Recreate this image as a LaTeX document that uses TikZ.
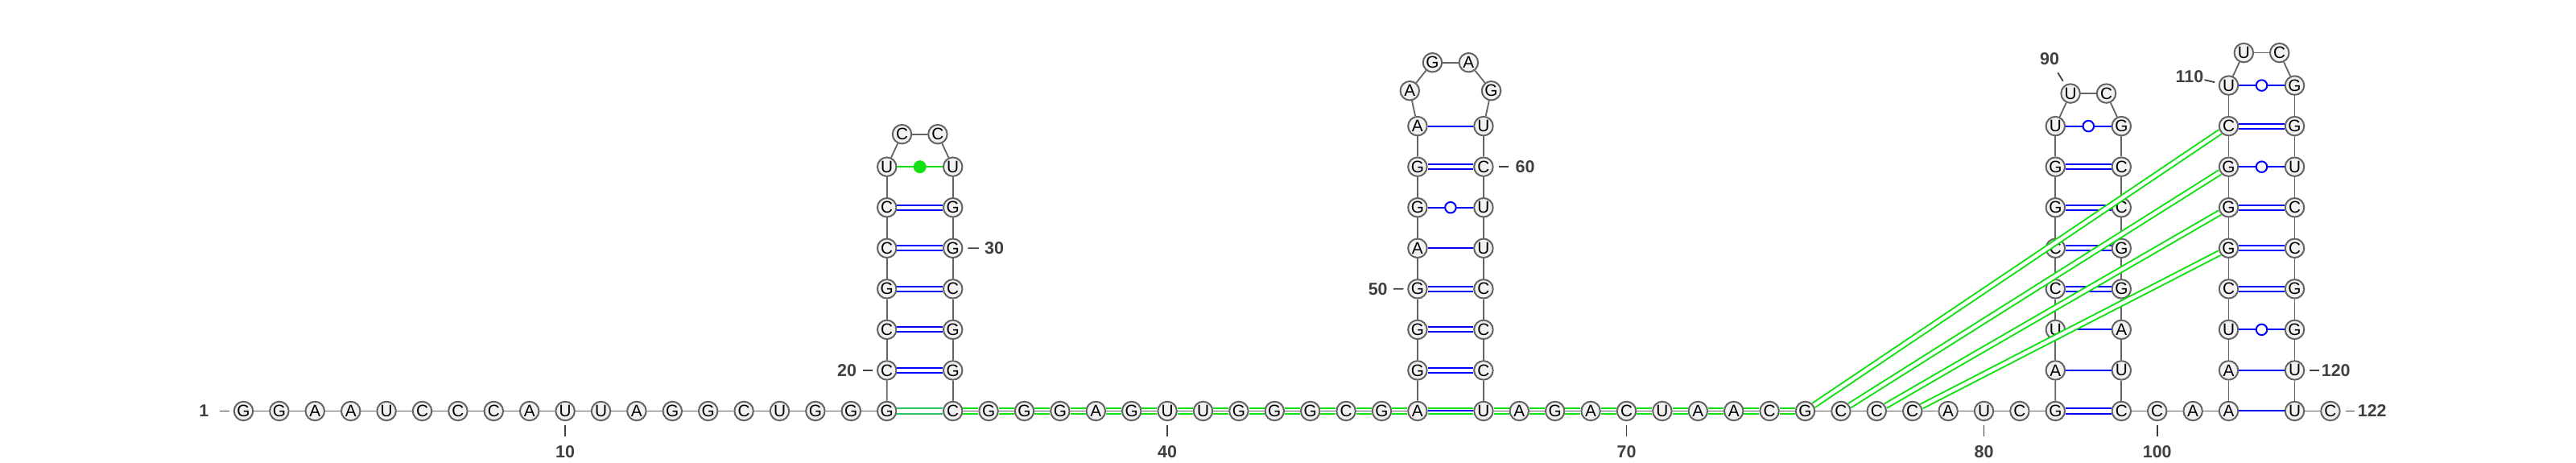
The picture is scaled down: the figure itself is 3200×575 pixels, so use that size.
\documentclass[tikz,border=0pt]{standalone}
\usepackage{fontspec}
\setmainfont{Liberation Sans}
\usepackage{tikz}
\usetikzlibrary{calc}
\definecolor{bbgray}{RGB}{100,100,100}
\definecolor{ntfill}{RGB}{242,242,242}
\definecolor{pairblue}{RGB}{0,0,255}
\definecolor{pkgreen}{RGB}{20,225,20}
\definecolor{pkteal}{RGB}{40,200,100}
\definecolor{lblgray}{RGB}{64,64,64}

\begin{document}
\begin{tikzpicture}[x=0.1mm, y=0.1mm,
    nt/.style={circle, draw=bbgray, fill=ntfill, line width=0.2mm, minimum size=2.35mm, inner sep=0pt, font=\fontsize{5.9}{6}\selectfont},
    bb/.style={draw=bbgray, line width=0.18mm},
    gc/.style={draw=pairblue, double=white, line width=0.2mm, double distance=0.42mm},
    au/.style={draw=pairblue, line width=0.2mm},
    wob/.style={circle, draw=pairblue, fill=white, line width=0.2mm, minimum size=1.35mm, inner sep=0pt},
    pk/.style={draw=pkgreen, double=white, line width=0.2mm, double distance=0.42mm},
    lbl/.style={inner sep=0pt, text=lblgray, font=\fontsize{6.1}{7}\selectfont\bfseries},
    tick/.style={draw=lblgray, line width=0.18mm}]
    \fill[white] (0,0) rectangle (3200,575);
    % strand 1 and hairpin 1
    \foreach \b [count=\i] in {G,G,A,A,U,C,C,C,A,U,U,A,G,G,C,U,G,G,G}
        \node[nt] (n\i) at ({302.5+44.4*(\i-1)},64.5) {\b};
    \foreach \b [count=\i from 20] in {C,C,G,C,C,U}
        \node[nt] (n\i) at (1101.7,{64.5+50.55*(\i-19)}) {\b};
    \node[nt] (n26) at (1120.5,408.3) {C};
    \node[nt] (n27) at (1164.9,408.3) {C};
    \foreach \b [count=\i from 28] in {U,G,G,C,G,G}
        \node[nt] (n\i) at (1183.7,{64.5+50.55*(34-\i)}) {\b};
    % hairpin 2
    \foreach \b [count=\i from 34] in {C,G,G,G,A,G,U,U,G,G,G,C,G,A}
        \node[nt] (n\i) at ({1183.7+44.4*(\i-34)},64.5) {\b};
    \foreach \b [count=\i from 48] in {G,G,G,A,G,G,A}
        \node[nt] (n\i) at (1760.9,{64.5+50.55*(\i-47)}) {\b};
    \coordinate (L2) at (1801.9,450.4);
    \foreach \b/\a [count=\i from 55] in {A/166.8,G/115.6,A/64.4,G/13.2}
        \node[nt] (n\i) at ($(L2)+(\a:52)$) {\b};
    \foreach \b [count=\i from 59] in {U,C,U,U,C,C,C}
        \node[nt] (n\i) at (1842.9,{64.5+50.55*(66-\i)}) {\b};
    % hairpin 3
    \foreach \b [count=\i from 66] in {U,A,G,A,C,U,A,A,C,G,C,C,C,A,U,C,G}
        \node[nt] (n\i) at ({1842.9+44.4*(\i-66)},64.5) {\b};
    \foreach \b [count=\i from 83] in {A,U,C,C,G,G,U}
        \node[nt] (n\i) at (2553.3,{64.5+50.55*(\i-82)}) {\b};
    \node[nt] (n90) at (2572.1,458.9) {U};
    \node[nt] (n91) at (2616.5,458.9) {C};
    \foreach \b [count=\i from 92] in {G,C,C,G,G,A,U}
        \node[nt] (n\i) at (2635.3,{64.5+50.55*(99-\i)}) {\b};
    % hairpin 4
    \foreach \b [count=\i from 99] in {C,C,A,A}
        \node[nt] (n\i) at ({2635.3+44.4*(\i-99)},64.5) {\b};
    \foreach \b [count=\i from 103] in {A,U,C,G,G,G,C,U}
        \node[nt] (n\i) at (2768.5,{64.5+50.55*(\i-102)}) {\b};
    \node[nt] (n111) at (2787.3,509.4) {U};
    \node[nt] (n112) at (2831.7,509.4) {C};
    \foreach \b [count=\i from 113] in {G,G,U,C,C,G,G,U}
        \node[nt] (n\i) at (2850.5,{64.5+50.55*(121-\i)}) {\b};
    \foreach \b [count=\i from 121] in {U,C}
        \node[nt] (n\i) at ({2850.5+44.4*(\i-121)},64.5) {\b};
    % pseudoknot along the strand
    \draw[pk, draw=pkteal] (n19) -- (n34);
    \draw[pk] (n47) -- (n66);
    \foreach \i in {34,...,46}{
        \pgfmathtruncatemacro\j{\i+1}
        \draw[pk] (n\i) -- (n\j);
    }
    \foreach \i in {66,...,74}{
        \pgfmathtruncatemacro\j{\i+1}
        \draw[pk] (n\i) -- (n\j);
    }
    % backbone
    \foreach \i in {1,...,121}{
        \pgfmathtruncatemacro\j{\i+1}
        \draw[bb] (n\i) -- (n\j);
    }
    % pairs
    \foreach \a/\b in {20/33,21/32,22/31,23/30,24/29,48/65,49/64,50/63,53/60,82/99,85/96,86/95,87/94,88/93,105/118,106/117,107/116,109/114}
        \draw[gc] (n\a) -- (n\b);
    \foreach \a/\b in {47/66,51/62,54/59,83/98,84/97,102/121,103/120}
        \draw[au] (n\a) -- (n\b);
    \foreach \a/\b in {52/61,89/92,104/119,108/115,110/113}
        \draw[au] (n\a) -- node[wob] (w\a) {} (n\b);
    \draw[au, draw=pkgreen] (n25) -- node[circle, fill=pkgreen, minimum size=1.6mm, inner sep=0pt] (w25) {} (n28);
    \foreach \a/\b in {75/109,76/108,77/107,78/106}
        \draw[pk] (n\a) -- (n\b);
    % numbering
    \node[lbl] (l1) at (253.3,64.5) {1};
    \node[lbl] (l20) at (1052,115.05) {20};
    \node[lbl] (l30) at (1235,266.7) {30};
    \node[lbl] (l50) at (1711.7,216.15) {50};
    \node[lbl] (l60) at (1894.5,367.8) {60};
    \node[lbl] (l90) at (2546,501.5) {90};
    \node[lbl] (l110) at (2720,480) {110};
    \node[lbl] (l120) at (2901.7,115.05) {120};
    \node[lbl] (l122) at (2946.7,64.5) {122};
    \foreach \i in {10,40,70,80,100}{
        \node[lbl] (l\i) at (n\i |- 0,14) {\i};
        \draw[tick, shorten <=0.45mm, shorten >=1.05mm] (n\i) -- (l\i);
    }
    \draw[tick, shorten <=0.48mm, shorten >=1.27mm] (n1) -- (l1);
    \draw[tick, shorten <=0.5mm, shorten >=0.7mm] (n20) -- (l20);
    \draw[tick, shorten <=0.6mm, shorten >=0.66mm] (n30) -- (l30);
    \draw[tick, shorten <=0.48mm, shorten >=0.66mm] (n50) -- (l50);
    \draw[tick, shorten <=0.6mm, shorten >=0.78mm] (n60) -- (l60);
    \draw[tick, shorten <=0.52mm, shorten >=1mm] (n90) -- (l90);
    \draw[tick, shorten <=0.49mm, shorten >=0.05mm] (n110) -- (l110);
    \draw[tick, shorten <=0.6mm, shorten >=0.23mm] (n120) -- (l120);
    \draw[tick, shorten <=0.6mm, shorten >=0.3mm] (n122) -- (l122);
\end{tikzpicture}
\end{document}
